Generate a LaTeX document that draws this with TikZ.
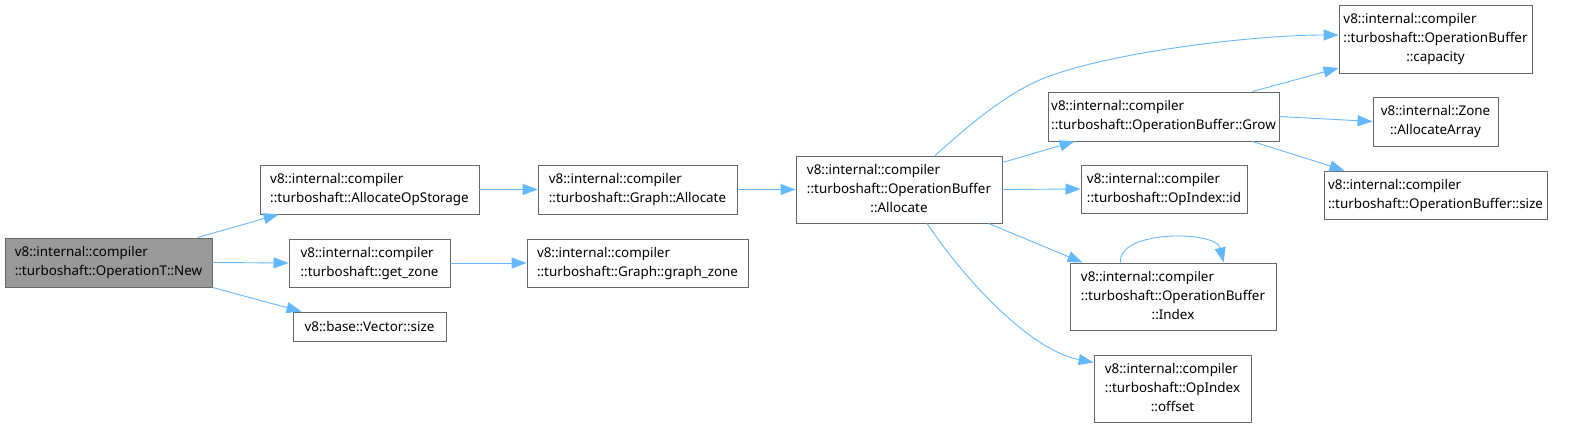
\documentclass[tikz,border=0pt]{standalone}
\usepackage{fontspec}
\setmainfont{Noto Sans}
\usetikzlibrary{arrows.meta}
\definecolor{edgeblue}{HTML}{63B8FF}
\definecolor{boxline}{HTML}{666666}
\definecolor{boxfill}{HTML}{999999}
\newcommand{\fnlabel}[2]{\begin{tabular}{@{}l@{}}#1\\\multicolumn{1}{@{}c@{}}{#2}\end{tabular}}
\begin{document}
\begin{tikzpicture}[x=1pt,y=1pt,
    fn/.style={draw=boxline, line width=0.9pt, rectangle, inner sep=0pt, text=black, font=\fontsize{13.4}{19}\selectfont},
    call/.style={draw=edgeblue, line width=0.9pt, -{Triangle[length=15pt,width=11pt]}}]
    \useasboundingbox (0,0) rectangle (1586,428);
    \node[fn, fill=boxfill, minimum width=207, minimum height=49] (new) at (108.5,165.5) {\fnlabel{v8::internal::compiler}{::turboshaft::OperationT::New}};
    \node[fn, minimum width=219, minimum height=49] (aos) at (369.5,238.5) {\fnlabel{v8::internal::compiler}{::turboshaft::AllocateOpStorage}};
    \node[fn, minimum width=161, minimum height=48] (getzone) at (369.5,165) {\fnlabel{v8::internal::compiler}{::turboshaft::get\_zone}};
    \node[fn, minimum width=153, minimum height=29] (vsize) at (369.5,101.5) {v8::base::Vector::size};
    \node[fn, minimum width=199, minimum height=49] (galloc) at (637.5,238.5) {\fnlabel{v8::internal::compiler}{::turboshaft::Graph::Allocate}};
    \node[fn, minimum width=221, minimum height=48] (gzone) at (637.5,165) {\fnlabel{v8::internal::compiler}{::turboshaft::Graph::graph\_zone}};
    \node[fn, minimum width=206, minimum height=67] (oballoc) at (899,238.5) {\fnlabel{v8::internal::compiler\\::turboshaft::OperationBuffer}{::Allocate}};
    \node[fn, minimum width=193, minimum height=68] (capacity) at (1435.5,389) {\fnlabel{v8::internal::compiler\\::turboshaft::OperationBuffer}{::capacity}};
    \node[fn, minimum width=231, minimum height=49] (grow) at (1163.5,311.5) {\fnlabel{v8::internal::compiler}{::turboshaft::OperationBuffer::Grow}};
    \node[fn, minimum width=125, minimum height=49] (allocarray) at (1435.5,306.5) {\fnlabel{v8::internal::Zone}{::AllocateArray}};
    \node[fn, minimum width=223, minimum height=48] (obsize) at (1435.5,233) {\fnlabel{v8::internal::compiler}{::turboshaft::OperationBuffer::size}};
    \node[fn, minimum width=166, minimum height=48] (opid) at (1164,239) {\fnlabel{v8::internal::compiler}{::turboshaft::OpIndex::id}};
    \node[fn, minimum width=206, minimum height=67] (index) at (1173,131.5) {\fnlabel{v8::internal::compiler\\::turboshaft::OperationBuffer}{::Index}};
    \node[fn, minimum width=157, minimum height=67] (offset) at (1172.5,39.5) {\fnlabel{v8::internal::compiler\\::turboshaft::OpIndex}{::offset}};
    \draw[call] ([xshift=-15]new.north east) -- ([xshift=19]aos.south west);
    \draw[call] (new.east) -- (getzone.west);
    \draw[call] (new.south east) -- ([xshift=9]vsize.north west);
    \draw[call] (aos.east) -- (galloc.west);
    \draw[call] (getzone.east) -- (gzone.west);
    \draw[call] (galloc.east) -- (oballoc.west);
    \draw[call] ([xshift=36]oballoc.north) .. controls (968,302) and (1000,329) .. (1033,345) .. controls (1093,374) and (1250,393) .. ([yshift=4]capacity.west);
    \draw[call] ([yshift=27]oballoc.east) -- ([xshift=27]grow.south west);
    \draw[call] (oballoc.east) -- (opid.west);
    \draw[call] ([xshift=-14]oballoc.south east) -- ([xshift=13]index.north west);
    \draw[call] ([xshift=28]oballoc.south) .. controls (965,148) and (1030,78) .. ([yshift=26]offset.west);
    \draw[call] ([xshift=-27]grow.north east) -- ([yshift=-29]capacity.west);
    \draw[call] (grow.east) -- (allocarray.west);
    \draw[call] ([xshift=-27]grow.south east) -- ([xshift=21]obsize.north west);
    \draw[call] ([xshift=51]index.north west) .. controls (1117,198) and (1216,198) .. ([xshift=154]index.north west);
\end{tikzpicture}
\end{document}
